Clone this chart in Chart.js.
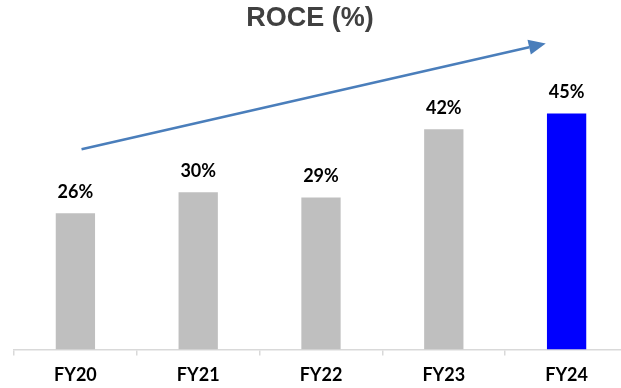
<!DOCTYPE html>
<html>
<head>
<meta charset="utf-8">
<script src="https://cdn.jsdelivr.net/npm/chart.js@4"></script>
<style>
  html, body { margin: 0; padding: 0; background: #fff; overflow: hidden; }
  #wrap { width: 628px; height: 388px; position: relative; }
</style>
</head>
<body>
<div id="wrap"><canvas id="c"></canvas></div>
<script>
// ROCE by fiscal year
const categories = ['FY20', 'FY21', 'FY22', 'FY23', 'FY24'];
const roce = [26, 30, 29, 42, 45];
const barColors = ['#bfbfbf', '#bfbfbf', '#bfbfbf', '#bfbfbf', '#0000ff'];
const titleText = 'ROCE (%)';

// Trend arrow, in data units: [category index, value]
const trendFrom = [0.05, 38.2];
const trendTo = [3.83, 58.4];

const labelFont = 'bold 18px Lato, "Liberation Sans", sans-serif';

// Heading centred over the visible page
const heading = {
  id: 'heading',
  afterDraw(chart) {
    const ctx = chart.ctx;
    ctx.save();
    ctx.font = 'bold 27px "Liberation Sans", Arial, sans-serif';
    ctx.fillStyle = '#404040';
    ctx.textAlign = 'center';
    ctx.textBaseline = 'middle';
    ctx.fillText(titleText, 310, 19);
    ctx.restore();
  }
};

// Draws "nn%" above each bar
const valueLabels = {
  id: 'valueLabels',
  afterDatasetsDraw(chart) {
    const ctx = chart.ctx;
    const meta = chart.getDatasetMeta(0);
    ctx.save();
    ctx.font = labelFont;
    ctx.fillStyle = '#000';
    ctx.textAlign = 'center';
    ctx.textBaseline = 'bottom';
    meta.data.forEach((bar, i) => {
      ctx.fillText(roce[i] + '%', bar.x, bar.y - 12);
    });
    ctx.restore();
  }
};

// Draws the upward trend arrow
const trendArrow = {
  id: 'trendArrow',
  afterDatasetsDraw(chart) {
    const { ctx, scales: { x, y } } = chart;
    const step = x.getPixelForValue(1) - x.getPixelForValue(0);
    const px = v => x.getPixelForValue(0) + v * step;
    const x1 = px(trendFrom[0]), y1 = y.getPixelForValue(trendFrom[1]);
    const x2 = px(trendTo[0]), y2 = y.getPixelForValue(trendTo[1]);
    const ang = Math.atan2(y2 - y1, x2 - x1);
    const headLen = 17, headHalf = 7.5;
    const bx = x2 - headLen * Math.cos(ang), by = y2 - headLen * Math.sin(ang);
    ctx.save();
    ctx.strokeStyle = '#4a7ebb';
    ctx.fillStyle = '#4a7ebb';
    ctx.lineWidth = 2.5;
    ctx.beginPath();
    ctx.moveTo(x1, y1);
    ctx.lineTo(bx, by);
    ctx.stroke();
    ctx.beginPath();
    ctx.moveTo(x2, y2);
    ctx.lineTo(bx + headHalf * Math.sin(ang), by - headHalf * Math.cos(ang));
    ctx.lineTo(bx - headHalf * Math.sin(ang), by + headHalf * Math.cos(ang));
    ctx.closePath();
    ctx.fill();
    ctx.restore();
  }
};

new Chart(document.getElementById('c'), {
  type: 'bar',
  data: {
    labels: categories,
    datasets: [{
      data: roce,
      backgroundColor: barColors,
      borderWidth: 0,
      categoryPercentage: 1,
      barPercentage: 0.32
    }]
  },
  options: {
    responsive: true,
    maintainAspectRatio: false,
    animation: false,
    layout: { padding: { left: 14, right: 0, top: 35, bottom: -7 } },
    plugins: {
      legend: { display: false },
      tooltip: { enabled: false },
      title: { display: false }
    },
    scales: {
      x: {
        offset: true,
        grid: {
          offset: true,
          drawOnChartArea: false,
          drawTicks: true,
          tickLength: 6,
          color: '#d9d9d9',
          lineWidth: 1.5
        },
        border: { display: true, color: '#d9d9d9', width: 1.5 },
        ticks: {
          color: '#000',
          padding: 9,
          font: { family: 'Lato, "Liberation Sans", sans-serif', size: 18, weight: 'bold' }
        }
      },
      y: {
        display: false,
        min: 0,
        max: 60
      }
    }
  },
  plugins: [valueLabels, trendArrow, heading]
});
</script>
</body>
</html>
